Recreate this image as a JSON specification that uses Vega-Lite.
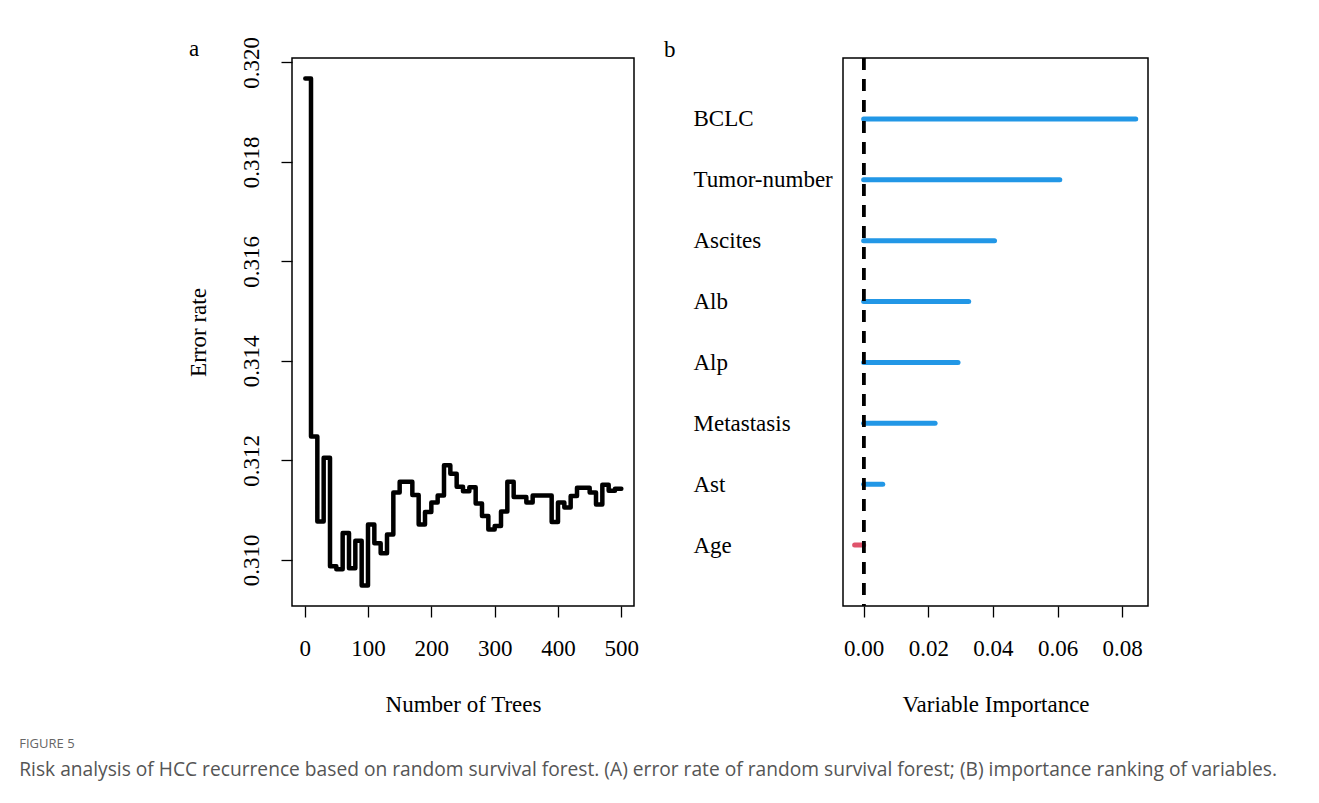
{
  "$schema": "https://vega.github.io/schema/vega-lite/v6.json",
  "background": "white",
  "padding": {"left": 19, "top": 35, "right": 5, "bottom": 5},
  "datasets": {
    "err": [
      {"trees": 1, "err": 0.31968}, {"trees": 10, "err": 0.31248}, {"trees": 20, "err": 0.31077},
      {"trees": 30, "err": 0.31205}, {"trees": 40, "err": 0.30987}, {"trees": 50, "err": 0.30981},
      {"trees": 60, "err": 0.31054}, {"trees": 70, "err": 0.30983}, {"trees": 80, "err": 0.31038},
      {"trees": 90, "err": 0.30948}, {"trees": 100, "err": 0.31071}, {"trees": 110, "err": 0.31033},
      {"trees": 120, "err": 0.31013}, {"trees": 130, "err": 0.31051}, {"trees": 140, "err": 0.31135},
      {"trees": 150, "err": 0.31157}, {"trees": 170, "err": 0.3113}, {"trees": 180, "err": 0.31071},
      {"trees": 190, "err": 0.31096}, {"trees": 200, "err": 0.31115}, {"trees": 210, "err": 0.31129},
      {"trees": 220, "err": 0.3119}, {"trees": 230, "err": 0.31173}, {"trees": 240, "err": 0.31147},
      {"trees": 250, "err": 0.31138}, {"trees": 260, "err": 0.31146}, {"trees": 270, "err": 0.31113},
      {"trees": 280, "err": 0.31088}, {"trees": 290, "err": 0.31061}, {"trees": 300, "err": 0.31068},
      {"trees": 310, "err": 0.31097}, {"trees": 320, "err": 0.31157}, {"trees": 330, "err": 0.31126},
      {"trees": 350, "err": 0.31115}, {"trees": 360, "err": 0.31129}, {"trees": 390, "err": 0.31076},
      {"trees": 400, "err": 0.31115}, {"trees": 410, "err": 0.31105}, {"trees": 420, "err": 0.31128},
      {"trees": 430, "err": 0.31145}, {"trees": 450, "err": 0.31135}, {"trees": 460, "err": 0.31111},
      {"trees": 470, "err": 0.31151}, {"trees": 480, "err": 0.31139}, {"trees": 490, "err": 0.31143},
      {"trees": 500, "err": 0.31143}
    ],
    "vimp": [
      {"variable": "BCLC", "imp": 0.0842},
      {"variable": "Tumor-number", "imp": 0.0607},
      {"variable": "Ascites", "imp": 0.0405},
      {"variable": "Alb", "imp": 0.0325},
      {"variable": "Alp", "imp": 0.0292},
      {"variable": "Metastasis", "imp": 0.0221},
      {"variable": "Ast", "imp": 0.0059},
      {"variable": "Age", "imp": -0.0028}
    ]
  },
  "title": {
    "text": "FIGURE 5",
    "subtitle": "Risk analysis of HCC recurrence based on random survival forest. (A) error rate of random survival forest; (B) importance ranking of variables.",
    "orient": "bottom",
    "anchor": "start",
    "frame": "bounds",
    "dx": -167,
    "offset": 21,
    "font": "Open Sans",
    "fontSize": 13,
    "fontWeight": "normal",
    "color": "#666666",
    "subtitleFont": "Open Sans",
    "subtitleFontSize": 19.2,
    "subtitleColor": "#555555",
    "subtitlePadding": 10
  },
  "spacing": 23,
  "hconcat": [
    {
      "width": 342,
      "height": 548,
      "title": {"text": "a", "anchor": "start", "frame": "bounds", "font": "Liberation Serif", "fontSize": 23, "fontWeight": "normal", "color": "black", "dx": 2, "dy": 24, "offset": 0},
      "data": {"name": "err"},
      "mark": {"type": "line", "interpolate": "step-after", "color": "black", "strokeWidth": 4.5, "strokeCap": "round", "strokeJoin": "round"},
      "encoding": {
        "x": {
          "field": "trees", "type": "quantitative",
          "scale": {"domain": [-20, 520], "nice": false, "zero": false},
          "axis": {"title": "Number of Trees", "values": [0, 100, 200, 300, 400, 500], "labelPadding": 20, "titlePadding": 33}
        },
        "y": {
          "field": "err", "type": "quantitative",
          "scale": {"domain": [0.30907, 0.32009], "nice": false, "zero": false},
          "axis": {"title": "Error rate", "values": [0.31, 0.312, 0.314, 0.316, 0.318, 0.32], "format": ".3f", "labelAngle": -90, "labelAlign": "center", "labelBaseline": "bottom", "labelPadding": 18, "titlePadding": 30}
        }
      }
    },
    {
      "width": 305,
      "height": 548,
      "title": {"text": "b", "anchor": "start", "frame": "bounds", "font": "Liberation Serif", "fontSize": 23, "fontWeight": "normal", "color": "black", "dx": -29, "dy": 5, "offset": 0},
      "data": {"name": "vimp"},
      "layer": [
        {
          "mark": {"type": "rule", "strokeWidth": 5, "strokeCap": "round"},
          "encoding": {
            "x": {
              "field": "imp", "type": "quantitative",
              "scale": {"domain": [-0.0064, 0.088], "nice": false, "zero": false},
              "axis": {"title": "Variable Importance", "values": [0, 0.02, 0.04, 0.06, 0.08], "format": ".2f", "labelPadding": 20, "titlePadding": 33}
            },
            "x2": {"datum": 0},
            "y": {
              "field": "variable", "type": "nominal",
              "sort": ["BCLC", "Tumor-number", "Ascites", "Alb", "Alp", "Metastasis", "Ast", "Age"],
              "scale": {"type": "point", "padding": 1},
              "axis": {"title": null, "ticks": false, "domain": false, "labelAlign": "left", "labelBaseline": "middle", "labelPadding": 150, "labelLimit": 300}
            },
            "color": {"condition": {"test": "datum.imp < 0", "value": "#DF536B"}, "value": "#2297E6"}
          }
        },
        {
          "mark": {"type": "rule", "color": "black", "strokeWidth": 3, "strokeDash": [12, 9]},
          "encoding": {"x": {"datum": 0, "type": "quantitative"}}
        }
      ]
    }
  ],
  "config": {
    "view": {"stroke": "black", "strokeWidth": 1.5, "fill": "white"},
    "axis": {
      "grid": false,
      "domain": false,
      "tickSize": 11,
      "tickColor": "black",
      "tickWidth": 1.3,
      "labelFont": "Liberation Serif",
      "labelFontSize": 23,
      "labelColor": "black",
      "titleFont": "Liberation Serif",
      "titleFontSize": 23,
      "titleFontWeight": "normal",
      "titleColor": "black"
    }
  }
}
